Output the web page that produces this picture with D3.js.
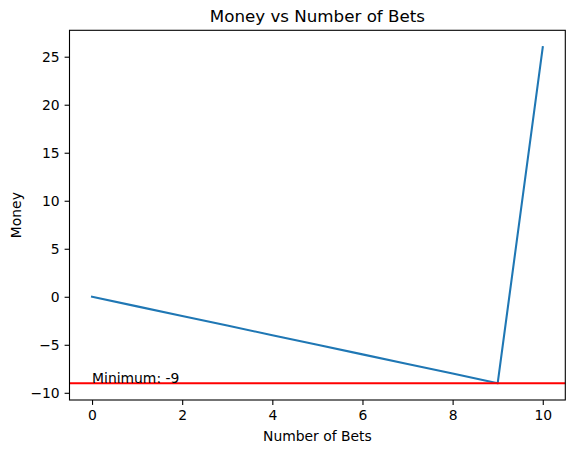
<!DOCTYPE html>
<html><head><meta charset="utf-8">
<script src="https://cdn.jsdelivr.net/npm/d3@7"></script>
<style>body{margin:0;background:#fff}svg{display:block}text{font-family:"DejaVu Sans",sans-serif;fill:#000}</style>
</head><body>
<script>
const bets = [0,1,2,3,4,5,6,7,8,9,10];
const money = [0,-1,-2,-3,-4,-5,-6,-7,-8,-9,26];
const xTicks = [0,2,4,6,8,10];
const yTicks = [-10,-5,0,5,10,15,20,25];
const minimum = -9;

const W=574,H=453;
const L=69.5,R=565.3,T=30.3,B=400;
const svg=d3.select("body").append("svg").attr("width",W).attr("height",H);
const x=d3.scaleLinear().domain([-0.5,10.5]).range([L,R]);
const y=d3.scaleLinear().domain([-10.75,27.75]).range([B,T]);
const fmt=d=>String(d).replace("-","\u2212");

const xa=svg.append("g").attr("transform",`translate(0,${B})`)
  .call(d3.axisBottom(x).tickValues(xTicks).tickSize(4.9).tickPadding(4.9).tickFormat(fmt));
const ya=svg.append("g").attr("transform",`translate(${L},0)`)
  .call(d3.axisLeft(y).tickValues(yTicks).tickSize(4.9).tickPadding(4.9).tickFormat(fmt));
[xa,ya].forEach(a=>{a.select(".domain").remove();a.selectAll("line").attr("stroke","#000").attr("stroke-width",1.1);
  a.selectAll("text").attr("font-size","13.9px").attr("font-family","DejaVu Sans").attr("fill","#000");});

const line=d3.line().x((d,i)=>x(bets[i])).y(d=>y(d));
svg.append("path").datum(money).attr("d",line).attr("fill","none").attr("stroke","#1f77b4").attr("stroke-width",2.08).attr("stroke-linejoin","round").attr("stroke-linecap","square");
svg.append("line").attr("x1",L).attr("x2",R).attr("y1",y(minimum)).attr("y2",y(minimum)).attr("stroke","#ff0000").attr("stroke-width",2.08);
svg.append("text").attr("x",x(0)).attr("y",y(minimum)).attr("font-size","13.9px").text("Minimum: "+minimum);

svg.append("rect").attr("x",L).attr("y",T).attr("width",R-L).attr("height",B-T).attr("fill","none").attr("stroke","#000").attr("stroke-width",1.1);

svg.append("text").attr("x",(L+R)/2).attr("y",T-8).attr("text-anchor","middle").attr("font-size","16.7px").text("Money vs Number of Bets");
svg.append("text").attr("x",(L+R)/2).attr("y",441).attr("text-anchor","middle").attr("font-size","13.9px").text("Number of Bets");
svg.append("text").attr("transform",`translate(21,${(T+B)/2}) rotate(-90)`).attr("text-anchor","middle").attr("font-size","13.9px").text("Money");
</script>
</body></html>
